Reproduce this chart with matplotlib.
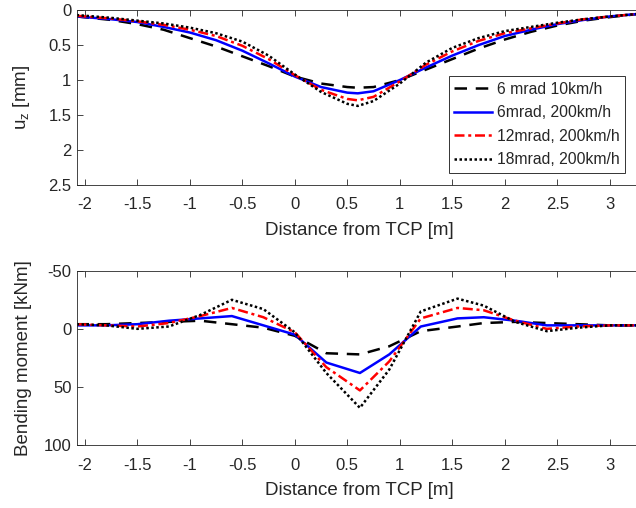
import numpy as np
import matplotlib
matplotlib.use('Agg')
import matplotlib.pyplot as plt

plt.rcParams['font.family'] = ['Liberation Sans', 'DejaVu Sans']
plt.rcParams['mathtext.fontset'] = 'custom'
plt.rcParams['mathtext.rm'] = 'Liberation Sans'
plt.rcParams['mathtext.it'] = 'Liberation Sans'

labels = ['6 mrad 10km/h', '6mrad, 200km/h', '12mrad, 200km/h', '18mrad, 200km/h']

# displacement u_z [mm]
x_u = [-2.08, -1.75, -1.5, -1.25, -1, -0.75, -0.5, -0.25, 0, 0.25, 0.5, 0.6,
       0.75, 1, 1.25, 1.5, 1.75, 2, 2.25, 2.5, 2.75, 3, 3.3]
uz_6_10 = [0.09, 0.14, 0.2, 0.28, 0.4, 0.52, 0.66, 0.8, 0.95, 1.05, 1.1, 1.11,
           1.1, 1.0, 0.85, 0.7, 0.55, 0.42, 0.31, 0.22, 0.15, 0.1, 0.05]
uz_6_200 = [0.09, 0.13, 0.17, 0.24, 0.32, 0.43, 0.58, 0.76, 0.95, 1.1, 1.18, 1.19,
            1.16, 1.0, 0.82, 0.65, 0.5, 0.37, 0.28, 0.2, 0.14, 0.09, 0.05]
uz_12_200 = [0.08, 0.12, 0.16, 0.21, 0.28, 0.37, 0.51, 0.7, 0.93, 1.14, 1.27, 1.29,
             1.24, 1.02, 0.78, 0.59, 0.44, 0.33, 0.26, 0.19, 0.13, 0.09, 0.05]
uz_18_200 = [0.07, 0.11, 0.15, 0.19, 0.25, 0.33, 0.45, 0.65, 0.92, 1.17, 1.34, 1.37,
             1.3, 1.05, 0.75, 0.54, 0.4, 0.3, 0.24, 0.18, 0.13, 0.09, 0.05]

# bending moment [kNm]
x_m = [-2.08, -1.8, -1.5, -1.2, -0.9, -0.6, -0.3, 0, 0.3, 0.62, 0.9, 1.2,
       1.55, 1.8, 2.1, 2.4, 2.7, 3.0, 3.3]
m_6_10 = [-4, -4, -5, -6, -7, -4, -1, 6, 21, 22, 15, 2, -2, -5, -6, -5, -4, -3, -3]
m_6_200 = [-3, -3, -4, -7, -9, -11, -3, 5, 29, 38, 22, -2, -9, -10, -7, -3, -3, -3, -3]
m_12_200 = [-4, -3, -2, -5, -11, -18, -10, 3, 33, 53, 28, -9, -18, -16, -7, 0, -2, -3, -3]
m_18_200 = [-4, -3, 0, -2, -12, -25, -17, 3, 38, 68, 35, -15, -26, -20, -6, 2, -1, -3, -3]

styles = [dict(color='black', linestyle=(0, (5, 3.5))),
          dict(color='blue', linestyle='-'),
          dict(color='red', linestyle=(0, (4, 1.5, 1.2, 1.5))),
          dict(color='black', linestyle=(0, (1, 1)))]

txt = '#262626'
fig = plt.figure(figsize=(6.36, 5.08), dpi=100)
# right spine sits just outside the picture, as in the reference
ax1 = fig.add_axes([0.121, 0.636, 0.888, 0.344])
ax2 = fig.add_axes([0.121, 0.124, 0.888, 0.343])

for y, lab, st in zip([uz_6_10, uz_6_200, uz_12_200, uz_18_200], labels, styles):
    ax1.plot(x_u, y, linewidth=1.8, label=lab, **st)
for y, st in zip([m_6_10, m_6_200, m_12_200, m_18_200], styles):
    ax2.plot(x_m, y, linewidth=1.8, **st)

ax1.set_ylim(2.5, 0)
ax1.set_yticks([0, 0.5, 1, 1.5, 2, 2.5])
ax1.set_yticklabels(['0', '0.5', '1', '1.5', '2', '2.5'])
ax1.set_ylabel('u$_\\mathrm{z}$ [mm]', fontsize=13.5, color=txt)
ax2.set_ylim(100, -50)
ax2.set_yticks([-50, 0, 50, 100])
ax2.set_yticklabels(['-50', '0', '50', '100'])
ax2.set_ylabel('Bending moment [kNm]', fontsize=13.5, color=txt)

for ax in (ax1, ax2):
    ax.set_xlim(-2.076, 3.305)
    ax.set_xticks([-2, -1.5, -1, -0.5, 0, 0.5, 1, 1.5, 2, 2.5, 3])
    ax.set_xticklabels(['-2', '-1.5', '-1', '-0.5', '0', '0.5', '1', '1.5', '2', '2.5', '3'])
    ax.set_xlabel('Distance from TCP [m]', fontsize=13.5, color=txt)
    ax.tick_params(direction='in', top=True, right=True, length=4, width=0.6,
                   colors=txt, labelsize=12, labelcolor=txt)
    ax.tick_params(axis='x', pad=9)
    ax.tick_params(axis='y', pad=4)
    ax.yaxis.set_label_coords(-0.079, 0.5)
    ax.xaxis.set_label_coords(0.5, -0.21)
    for s in ax.spines.values():
        s.set_color(txt)
        s.set_linewidth(0.6)

leg = ax1.legend(loc='upper right', bbox_to_anchor=(0.970, 0.623), fontsize=11.3,
                 handlelength=2.4, fancybox=False, framealpha=1, borderpad=0.35,
                 labelspacing=0.55, handletextpad=0.3, borderaxespad=0)
leg.get_frame().set_edgecolor('#333333')
leg.get_frame().set_linewidth(0.7)
for t in leg.get_texts():
    t.set_color(txt)

fig.savefig('out.png', dpi=100)
